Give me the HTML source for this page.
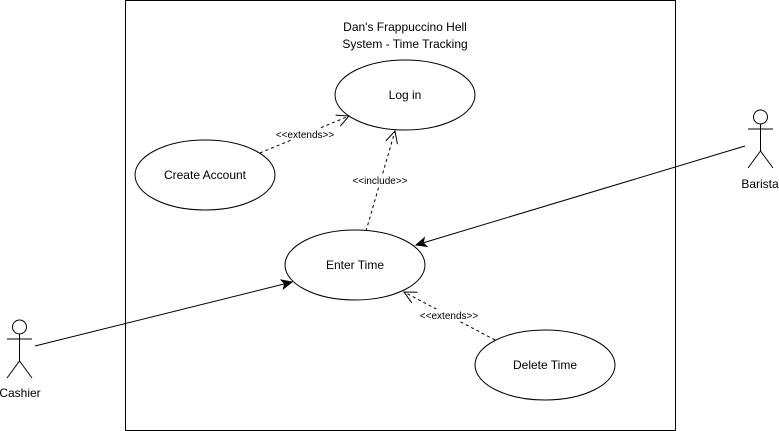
<!DOCTYPE html>
<html><head><meta charset="utf-8"><style>
html,body{margin:0;padding:0;background:#fff;}
svg{display:block;}
text{font-family:"Liberation Sans",Arial,sans-serif;fill:#000;}
</style></head><body>
<svg width="779" height="431" viewBox="0 0 779 431" xmlns="http://www.w3.org/2000/svg">
<defs>
<marker id="open" markerWidth="14" markerHeight="14" refX="13" refY="7" orient="auto" markerUnits="userSpaceOnUse">
<path d="M1,1 L13,7 L1,13" fill="none" stroke="#000" stroke-width="1"/>
</marker>
<marker id="fill" markerWidth="12" markerHeight="12" refX="11" refY="6" orient="auto" markerUnits="userSpaceOnUse">
<path d="M1,1.5 L11,6 L1,10.5 L3.5,6 Z" fill="#000" stroke="#000"/>
</marker>
</defs>
<rect x="125.5" y="0.5" width="550" height="430" fill="#fff" stroke="#000"/>
<text x="405" y="31" font-size="12" text-anchor="middle">Dan's Frappuccino Hell</text>
<text x="405" y="48" font-size="12" text-anchor="middle">System - Time Tracking</text>

<ellipse cx="405" cy="95" rx="70" ry="35" fill="#fff" stroke="#000"/>
<text x="405" y="99" font-size="12" text-anchor="middle">Log in</text>
<ellipse cx="205" cy="175" rx="70" ry="35" fill="#fff" stroke="#000"/>
<text x="205" y="179" font-size="12" text-anchor="middle">Create Account</text>
<ellipse cx="355" cy="265" rx="70" ry="35" fill="#fff" stroke="#000"/>
<text x="355" y="269" font-size="12" text-anchor="middle">Enter Time</text>
<ellipse cx="545" cy="365" rx="70" ry="35" fill="#fff" stroke="#000"/>
<text x="545" y="369" font-size="12" text-anchor="middle">Delete Time</text>

<line x1="260" y1="153" x2="349" y2="116" stroke="#000" stroke-dasharray="3,3" marker-end="url(#open)"/>
<line x1="366" y1="231" x2="395" y2="131" stroke="#000" stroke-dasharray="3,3" marker-end="url(#open)"/>
<line x1="495" y1="340" x2="404" y2="292" stroke="#000" stroke-dasharray="3,3" marker-end="url(#open)"/>
<line x1="745" y1="146" x2="416" y2="245" stroke="#000" marker-end="url(#fill)"/>
<line x1="35" y1="346" x2="292" y2="282" stroke="#000" marker-end="url(#fill)"/>

<rect x="273" y="128" width="64" height="12" fill="#fff"/>
<text x="305" y="138" font-size="10" text-anchor="middle">&lt;&lt;extends&gt;&gt;</text>
<rect x="350" y="174" width="60" height="12" fill="#fff"/>
<text x="380" y="184" font-size="10" text-anchor="middle">&lt;&lt;include&gt;&gt;</text>
<rect x="417" y="309" width="64" height="12" fill="#fff"/>
<text x="449" y="319" font-size="10" text-anchor="middle">&lt;&lt;extends&gt;&gt;</text>

<g fill="none" stroke="#000">
<circle cx="19.5" cy="327" r="7" fill="#fff"/>
<line x1="19.5" y1="334" x2="19.5" y2="361"/>
<line x1="7" y1="339" x2="32" y2="339"/>
<line x1="19.5" y1="361" x2="7" y2="378"/>
<line x1="19.5" y1="361" x2="32" y2="378"/>
<circle cx="760.5" cy="117" r="7" fill="#fff"/>
<line x1="760.5" y1="124" x2="760.5" y2="151"/>
<line x1="748" y1="129" x2="773" y2="129"/>
<line x1="760.5" y1="151" x2="748" y2="168"/>
<line x1="760.5" y1="151" x2="773" y2="168"/>
</g>
<text x="20" y="397" font-size="12" text-anchor="middle">Cashier</text>
<text x="760" y="188" font-size="12" text-anchor="middle">Barista</text>
</svg>
</body></html>
